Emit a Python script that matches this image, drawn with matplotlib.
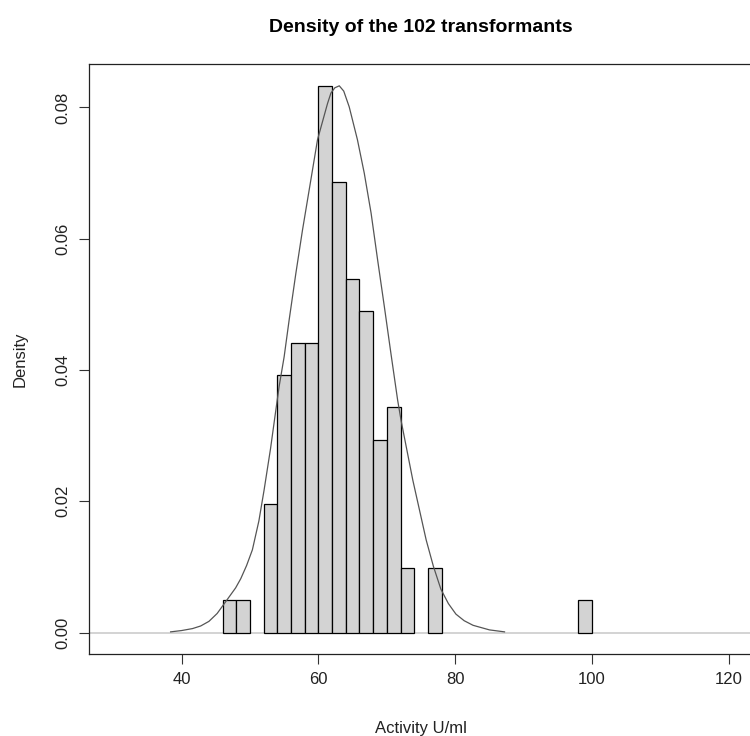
import matplotlib
matplotlib.use("Agg")
import matplotlib.pyplot as plt

plt.rcParams['font.family'] = ['Liberation Sans', 'DejaVu Sans']

# histogram bins (width 2) and density values (counts / (102 * 2))
bin_left = [46, 48, 52, 54, 56, 58, 60, 62, 64, 66, 68, 70, 72, 76, 98]
density = [0.0049, 0.0049, 0.0196, 0.0392, 0.0441, 0.0441, 0.0833, 0.0686,
           0.0539, 0.0490, 0.0294, 0.0343, 0.0098, 0.0098, 0.0049]
bin_width = 2

# fitted curve, points
curve_x = [38.4, 40.0, 41.6, 42.8, 44.0, 45.2, 46.45, 47.9, 48.65, 49.5, 50.35,
           51.3, 52.06, 53.0, 53.78, 54.26, 54.99, 55.72, 56.7, 57.67, 58.9,
           59.87, 61.33, 61.83, 62.4, 63.05, 63.7, 64.5, 65.7, 66.7, 67.7,
           68.65, 69.63, 70.6, 71.58, 72.1, 73.8, 75.75, 76.8, 77.9, 79.0,
           80.1, 81.3, 82.6, 85.0, 87.2]
curve_y = [0.0001, 0.0003, 0.0006, 0.0010, 0.0017, 0.0029, 0.0047, 0.0068,
           0.0082, 0.0102, 0.0126, 0.0170, 0.0217, 0.0280, 0.0339, 0.0375,
           0.0420, 0.0476, 0.0547, 0.0613, 0.0690, 0.0751, 0.0806, 0.0822,
           0.0830, 0.0833, 0.0825, 0.0801, 0.0751, 0.0700, 0.0639, 0.0568,
           0.0497, 0.0425, 0.0354, 0.0322, 0.0232, 0.0141, 0.0101, 0.0066,
           0.0044, 0.0028, 0.0018, 0.0011, 0.0004, 0.0001]

xticks = [40, 60, 80, 100, 120]
yticks = [0.00, 0.02, 0.04, 0.06, 0.08]

fig = plt.figure(figsize=(7.5, 7.36), dpi=100)
ax = fig.add_axes([0.118, 0.1109, 0.8868, 0.8028])

ax.axhline(0, color='#cccccc', lw=1.2, zorder=1)
ax.bar(bin_left, density, width=bin_width, align='edge', color='#d3d3d3',
       edgecolor='black', linewidth=0.9, zorder=2)
ax.plot(curve_x, curve_y, color='#555555', lw=0.9, zorder=3)

ax.set_xlim(26.4, 123.6)
ax.set_ylim(-0.00333, 0.0867)
ax.set_xticks(xticks)
ax.set_xticklabels([str(t) for t in xticks])
ax.set_yticks(yticks)
ax.set_yticklabels(['%.2f' % t for t in yticks], rotation=90, va='center')
ax.tick_params(direction='out', length=7, width=0.8, labelsize=12,
               color='#333333', labelcolor='#222222', pad=6)
for s in ax.spines.values():
    s.set_linewidth(0.9)
    s.set_color('#222222')

ax.set_xlabel('Activity U/ml', fontsize=12, color='#222222', labelpad=24)
ax.set_ylabel('Density', fontsize=12, color='#222222', labelpad=20)
ax.set_title('Density of the 102 transformants', fontsize=14, fontweight='bold',
             pad=23)

fig.savefig('out.png', dpi=100)
